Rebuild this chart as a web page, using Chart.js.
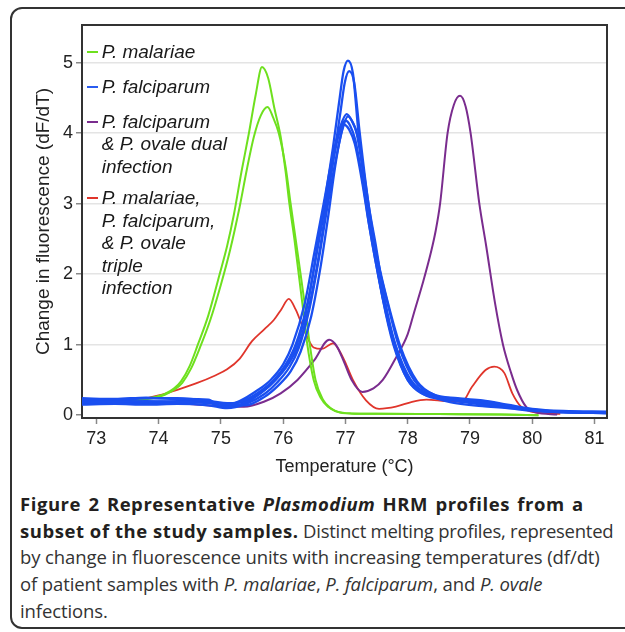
<!DOCTYPE html>
<html><head><meta charset="utf-8">
<script src="https://cdn.jsdelivr.net/npm/chart.js@4.4.1/dist/chart.umd.min.js"></script>
<style>
html,body{margin:0;padding:0;background:#fff;width:625px;height:632px;overflow:hidden;position:relative;}
#frame{position:absolute;left:10px;top:7px;width:660px;height:622px;border:2px solid #333;border-radius:12px;box-sizing:border-box;}
#wrap{position:absolute;left:0;top:0;width:625px;height:480px;}
#wrap canvas{position:absolute;left:0;top:0;}
.leg{position:absolute;left:101.7px;font:italic 19px "Liberation Sans",Arial,sans-serif;color:#1a1a1a;line-height:22.5px;white-space:nowrap;}
.dash{position:absolute;left:87px;width:11px;height:2px;}
#cap{position:absolute;left:20px;top:491px;font-family:"Open Sans",sans-serif;font-size:18.5px;line-height:26.7px;color:#333;white-space:nowrap;letter-spacing:-0.1px;}
#cap b{color:#231f20;letter-spacing:0.55px;}
#cap b i{letter-spacing:0.4px;}
#cap .l1{word-spacing:2px;}
#cap .l2r{letter-spacing:-0.25px;}
</style></head>
<body>
<div id="frame"></div>
<div id="wrap">
<canvas id="c" width="625" height="480"></canvas>
<div class="dash" style="top:51px;background:#6ee01e"></div>
<div class="leg" style="top:41px">P. malariae</div>
<div class="dash" style="top:86px;background:#2a5cf0"></div>
<div class="leg" style="top:76px">P. falciparum</div>
<div class="dash" style="top:120.5px;background:#7a2c8e"></div>
<div class="leg" style="top:110.5px">P. falciparum<br>&amp; P. ovale dual<br>infection</div>
<div class="dash" style="top:197px;background:#e0352b"></div>
<div class="leg" style="top:187px">P. malariae,<br>P. falciparum,<br>&amp; P. ovale<br>triple<br>infection</div>
</div>
<div id="cap">
<div class="l1"><b>Figure 2 Representative <i>Plasmodium</i> HRM profiles from a</b></div>
<div><b>subset of the study samples.</b><span class="l2r"> Distinct melting profiles, represented</span></div>
<div>by change in fluorescence units with increasing temperatures (df/dt)</div>
<div>of patient samples with <i>P. malariae</i>, <i>P. falciparum</i>, and <i>P. ovale</i></div>
<div>infections.</div>
</div>
<script>
// Tick labels
const xTicks = [73, 74, 75, 76, 77, 78, 79, 80, 81];
const yTicks = [0, 1, 2, 3, 4, 5];

// P. malariae (two samples)
const malariaeA_T = [72.77, 73.2, 73.6, 73.9, 74.1, 74.25, 74.36, 74.5, 74.63, 74.8, 74.98, 75.1, 75.21, 75.33, 75.45, 75.56, 75.66, 75.76, 75.86, 75.96, 76.04, 76.1, 76.18, 76.25, 76.32, 76.38, 76.49, 76.6, 76.72, 76.87, 77.1, 77.5, 78.5, 79.5, 80.1];
const malariaeA_dF = [0.2, 0.2, 0.22, 0.25, 0.3, 0.38, 0.48, 0.7, 1.0, 1.42, 2.0, 2.4, 2.85, 3.45, 4.0, 4.55, 4.94, 4.78, 4.35, 3.95, 3.45, 3.0, 2.5, 2.0, 1.5, 1.05, 0.5, 0.25, 0.12, 0.05, 0.025, 0.02, 0.015, 0.01, 0.0];
const malariaeB_T = [72.77, 73.2, 73.6, 73.9, 74.1, 74.25, 74.38, 74.52, 74.66, 74.83, 75.0, 75.15, 75.3, 75.42, 75.53, 75.64, 75.75, 75.84, 75.93, 76.04, 76.12, 76.2, 76.28, 76.35, 76.42, 76.52, 76.64, 76.76, 76.9, 77.15, 77.5, 78.5, 79.5, 80.1];
const malariaeB_dF = [0.18, 0.19, 0.21, 0.24, 0.29, 0.36, 0.46, 0.66, 0.95, 1.35, 1.85, 2.35, 2.95, 3.5, 3.95, 4.25, 4.37, 4.22, 4.0, 3.52, 3.0, 2.5, 2.0, 1.55, 1.05, 0.5, 0.22, 0.1, 0.04, 0.02, 0.02, 0.015, 0.01, 0.0];

// P. falciparum (six samples)
const falcA_T = [72.77, 73.3, 73.8, 74.3, 74.8, 75.1, 75.4, 75.65, 75.85, 76.05, 76.22, 76.4, 76.55, 76.68, 76.8, 76.9, 76.97, 77.04, 77.12, 77.21, 77.35, 77.45, 77.6, 77.77, 78.0, 78.2, 78.5, 79.0, 79.5, 80.0, 80.5, 81.2];
const falcA_dF = [0.22, 0.22, 0.24, 0.24, 0.2, 0.15, 0.22, 0.35, 0.5, 0.72, 1.0, 1.6, 2.4, 3.1, 3.8, 4.45, 4.88, 5.03, 4.85, 4.0, 3.0, 2.45, 1.65, 1.0, 0.5, 0.32, 0.25, 0.21, 0.15, 0.08, 0.05, 0.04];
const falcB_T = [72.77, 73.3, 73.8, 74.3, 74.8, 75.1, 75.4, 75.65, 75.88, 76.08, 76.25, 76.42, 76.58, 76.7, 76.82, 76.92, 76.99, 77.06, 77.14, 77.23, 77.37, 77.48, 77.63, 77.8, 78.03, 78.25, 78.6, 79.0, 79.5, 80.0, 80.5, 81.2];
const falcB_dF = [0.18, 0.19, 0.2, 0.19, 0.17, 0.13, 0.18, 0.32, 0.5, 0.72, 1.0, 1.55, 2.3, 3.0, 3.7, 4.3, 4.72, 4.88, 4.72, 4.0, 3.0, 2.45, 1.65, 1.0, 0.5, 0.3, 0.22, 0.19, 0.13, 0.07, 0.05, 0.03];
const falcC_T = [72.77, 73.3, 73.8, 74.3, 74.8, 75.0, 75.3, 75.6, 75.8, 76.0, 76.15, 76.35, 76.5, 76.65, 76.8, 76.92, 77.02, 77.1, 77.18, 77.3, 77.4, 77.5, 77.66, 77.85, 78.1, 78.4, 78.8, 79.2, 79.6, 80.0, 80.5, 81.2];
const falcC_dF = [0.24, 0.23, 0.25, 0.23, 0.22, 0.12, 0.2, 0.36, 0.5, 0.72, 1.0, 1.6, 2.3, 3.0, 3.7, 4.1, 4.27, 4.18, 4.0, 3.35, 2.75, 2.25, 1.65, 1.0, 0.5, 0.3, 0.24, 0.21, 0.15, 0.09, 0.06, 0.05];
const falcD_T = [72.77, 73.3, 73.8, 74.3, 74.8, 75.1, 75.4, 75.7, 75.9, 76.1, 76.25, 76.42, 76.57, 76.7, 76.84, 76.95, 77.04, 77.12, 77.2, 77.32, 77.42, 77.52, 77.68, 77.88, 78.15, 78.45, 78.8, 79.2, 79.6, 80.0, 80.5, 81.2];
const falcD_dF = [0.15, 0.16, 0.15, 0.16, 0.14, 0.1, 0.16, 0.3, 0.46, 0.68, 0.95, 1.5, 2.2, 2.9, 3.6, 4.05, 4.24, 4.15, 3.95, 3.3, 2.7, 2.2, 1.6, 0.98, 0.48, 0.28, 0.2, 0.15, 0.11, 0.07, 0.04, 0.03];
const falcE_T = [72.77, 73.3, 73.8, 74.3, 74.8, 75.1, 75.4, 75.65, 75.85, 76.03, 76.2, 76.38, 76.53, 76.67, 76.8, 76.9, 77.0, 77.08, 77.16, 77.28, 77.38, 77.48, 77.62, 77.8, 78.05, 78.35, 78.8, 79.2, 79.6, 80.0, 80.5, 81.2];
const falcE_dF = [0.2, 0.21, 0.19, 0.2, 0.2, 0.17, 0.2, 0.32, 0.48, 0.7, 1.0, 1.55, 2.25, 2.95, 3.6, 4.0, 4.18, 4.1, 3.9, 3.3, 2.7, 2.2, 1.6, 1.0, 0.5, 0.3, 0.23, 0.2, 0.14, 0.08, 0.05, 0.04];
const falcF_T = [72.77, 73.3, 73.8, 74.3, 74.8, 75.1, 75.4, 75.7, 75.92, 76.12, 76.28, 76.45, 76.6, 76.72, 76.83, 76.92, 76.98, 77.06, 77.15, 77.27, 77.37, 77.47, 77.6, 77.78, 78.0, 78.3, 78.7, 79.2, 79.6, 80.0, 80.5, 81.2];
const falcF_dF = [0.17, 0.18, 0.17, 0.18, 0.19, 0.15, 0.14, 0.26, 0.42, 0.62, 0.9, 1.4, 2.1, 2.8, 3.5, 3.95, 4.12, 4.05, 3.85, 3.3, 2.75, 2.25, 1.65, 1.0, 0.5, 0.3, 0.18, 0.13, 0.1, 0.06, 0.04, 0.03];

// P. falciparum & P. ovale dual infection
const dual_T = [72.77, 73.5, 74.0, 74.5, 75.0, 75.37, 75.69, 75.96, 76.23, 76.5, 76.74, 76.86, 76.98, 77.1, 77.27, 77.45, 77.6, 77.82, 78.0, 78.1, 78.25, 78.37, 78.45, 78.52, 78.64, 78.74, 78.84, 78.93, 79.01, 79.15, 79.26, 79.4, 79.53, 79.66, 79.76, 79.9, 80.05, 80.4];
const dual_dF = [0.2, 0.19, 0.18, 0.16, 0.13, 0.12, 0.19, 0.31, 0.5, 0.78, 1.07, 0.98, 0.75, 0.5, 0.33, 0.38, 0.5, 0.83, 1.15, 1.45, 1.9, 2.3, 2.62, 3.0, 4.0, 4.4, 4.53, 4.38, 4.0, 3.0, 2.4, 1.6, 1.0, 0.6, 0.35, 0.12, 0.04, 0.01];

// P. malariae, P. falciparum & P. ovale triple infection
const triple_T = [72.77, 73.3, 73.7, 74.0, 74.3, 74.6, 74.9, 75.1, 75.3, 75.5, 75.7, 75.85, 75.97, 76.09, 76.2, 76.34, 76.49, 76.62, 76.8, 76.96, 77.12, 77.33, 77.54, 77.81, 78.07, 78.3, 78.6, 78.87, 79.03, 79.25, 79.39, 79.55, 79.68, 79.82, 79.98, 80.45];
const triple_dF = [0.17, 0.18, 0.22, 0.28, 0.36, 0.45, 0.56, 0.65, 0.8, 1.05, 1.22, 1.35, 1.5, 1.65, 1.5, 1.2, 0.96, 0.94, 1.02, 0.82, 0.5, 0.21, 0.09, 0.12, 0.19, 0.22, 0.2, 0.19, 0.4, 0.64, 0.69, 0.6, 0.31, 0.12, 0.05, 0.02];

const GREEN = '#6ee01e', BLUE = '#1a4ff0', PURPLE = '#7a2c8e', RED = '#e0352b';

function pts(T, Y) { return T.map((t, i) => ({x: t, y: Y[i]})); }
function ds(label, T, Y, color, w) {
  return {label, data: pts(T, Y), borderColor: color, backgroundColor: color, borderWidth: w,
    pointRadius: 0, fill: false, cubicInterpolationMode: 'monotone'};
}

const datasets = [
  ds('P. falciparum', falcA_T, falcA_dF, BLUE, 2.3),
  ds('P. falciparum', falcB_T, falcB_dF, BLUE, 2.3),
  ds('P. falciparum', falcC_T, falcC_dF, BLUE, 2.3),
  ds('P. falciparum', falcD_T, falcD_dF, BLUE, 2.3),
  ds('P. falciparum', falcE_T, falcE_dF, BLUE, 2.3),
  ds('P. falciparum', falcF_T, falcF_dF, BLUE, 2.3),
  ds('P. malariae', malariaeA_T, malariaeA_dF, GREEN, 2),
  ds('P. malariae', malariaeB_T, malariaeB_dF, GREEN, 2),
  ds('P. falciparum & P. ovale dual infection', dual_T, dual_dF, PURPLE, 2),
  ds('P. malariae, P. falciparum, & P. ovale triple infection', triple_T, triple_dF, RED, 1.8)
];

Chart.defaults.font.family = '"Liberation Sans", Arial, Helvetica, sans-serif';
Chart.defaults.color = '#222';

const frameBox = {
  id: 'frameBox',
  afterDraw(c) {
    const {ctx, chartArea: a} = c;
    ctx.save();
    ctx.strokeStyle = '#333'; ctx.lineWidth = 2;
    ctx.beginPath();
    ctx.moveTo(a.left - 1, a.top); ctx.lineTo(a.right, a.top); ctx.lineTo(a.right, a.bottom + 1);
    ctx.stroke();
    ctx.restore();
  }
};

new Chart(document.getElementById('c'), {
  type: 'line',
  data: {datasets},
  plugins: [frameBox],
  options: {
    responsive: false,
    animation: false,
    layout: {padding: {left: 0, top: 25, right: 18, bottom: 0}},
    plugins: {legend: {display: false}, tooltip: {enabled: false}},
    scales: {
      x: {
        type: 'linear', min: 72.77, max: 81.2,
        afterBuildTicks: s => { s.ticks = xTicks.map(v => ({value: v})); },
        afterFit: s => { s.height = 62; },
        ticks: {font: {size: 18}, color: '#222', padding: 4, maxRotation: 0, callback: v => String(v)},
        grid: {drawOnChartArea: false, drawTicks: true, tickLength: 6, tickColor: '#888', tickWidth: 1.5},
        border: {display: true, color: '#333', width: 2},
        title: {display: true, text: 'Temperature (°C)', font: {size: 18}, color: '#222', padding: {top: 0, bottom: 2.2}}
      },
      y: {
        type: 'linear', min: -0.04, max: 5.535,
        afterBuildTicks: s => { s.ticks = yTicks.map(v => ({value: v})); },
        afterFit: s => { s.width = 82; },
        ticks: {font: {size: 18}, color: '#222', padding: 3, callback: v => String(v)},
        grid: {
          color: c => (c.tick && c.tick.value === 0) ? 'rgba(0,0,0,0)' : '#e4e4e4',
          lineWidth: 1.5, drawTicks: true, tickLength: 6, tickColor: '#888', tickWidth: 1.5
        },
        border: {display: true, color: '#333', width: 2},
        title: {display: true, text: 'Change in fluorescence (dF/dT)', font: {size: 19}, color: '#222', padding: {top: 32.5, bottom: 0}}
      }
    }
  }
});
</script>
</body></html>
